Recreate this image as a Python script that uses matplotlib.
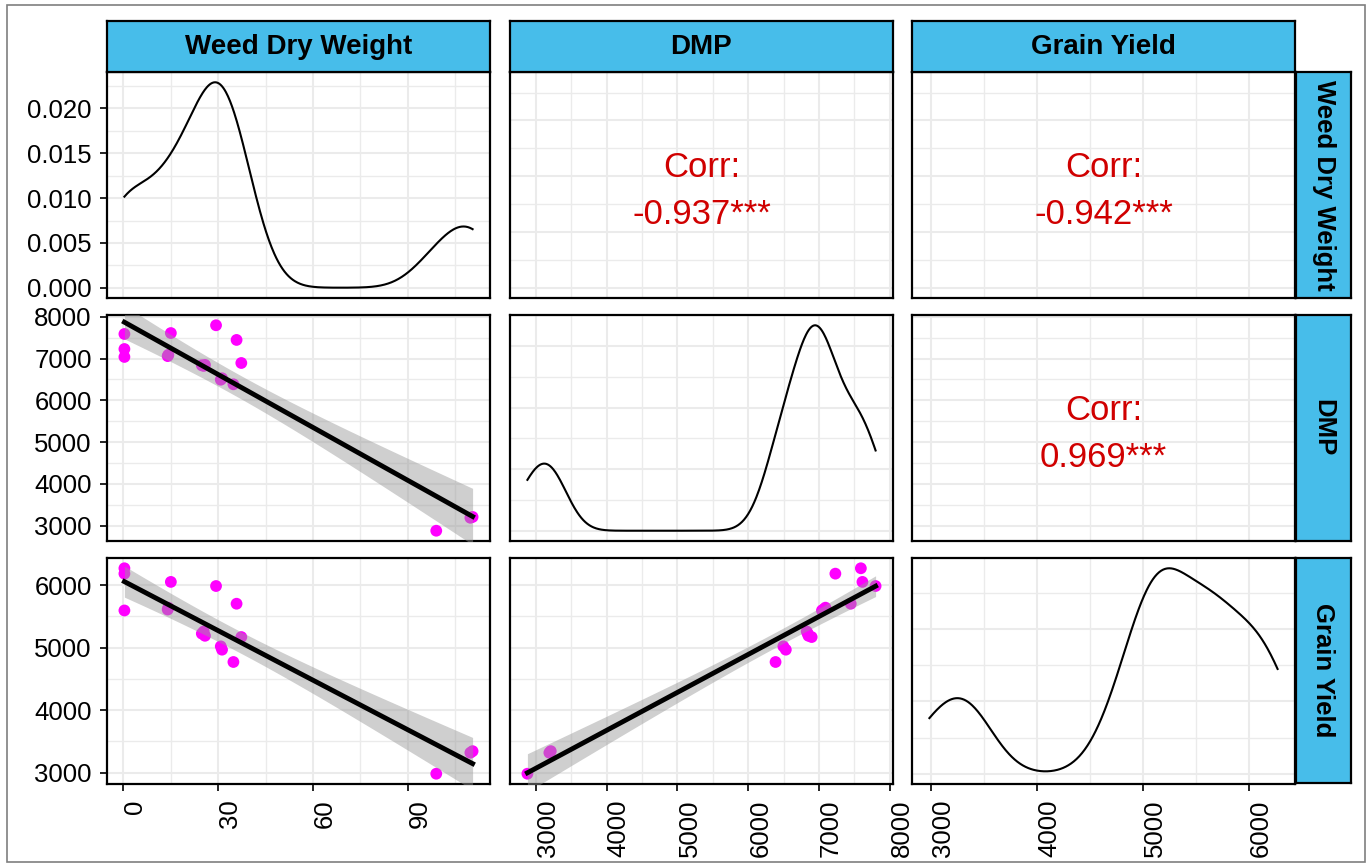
import numpy as np
import matplotlib.pyplot as plt
from matplotlib.patches import Rectangle
from matplotlib.ticker import MultipleLocator, MaxNLocator, FormatStrFormatter

plt.rcParams['font.family'] = ['Liberation Sans', 'DejaVu Sans']

# variables of the pairs plot
var_names = ['Weed Dry Weight', 'DMP', 'Grain Yield']
weed_dry_weight = [0.3, 0.3, 0.3, 15.0, 14.2, 14.0, 29.3, 35.8, 37.3, 25.4, 25.8, 24.8,
                   30.8, 31.2, 34.8, 99.0, 110.5, 109.8]
dmp = [7590, 7230, 7040, 7612, 7090, 7060, 7798, 7447, 6895, 6825, 6850, 6840,
       6495, 6530, 6385, 2880, 3210, 3190]
grain_yield = [6270, 6184, 5595, 6052, 5640, 5610, 5986, 5703, 5170, 5259, 5190, 5225,
               5021, 4968, 4771, 2984, 3345, 3320]
corr_labels = {(0, 1): '-0.937***', (0, 2): '-0.942***', (1, 2): '0.969***'}
x_steps = [30, 1000, 1000]
dens_step = 0.005

data = [np.array(weed_dry_weight, float), np.array(dmp, float),
        np.array(grain_yield, float)]

strip_col = '#47BDEA'
corr_col = '#D00000'
grid_col = '#EBEBEB'

W, H = 1370, 867
fig = plt.figure(figsize=(W / 100, H / 100), dpi=100)


def px_axes(left, top, width, height):
    return fig.add_axes([left / W, 1 - (top + height) / H, width / W, height / H])


def expand(v, mult=0.05):
    lo, hi = v.min(), v.max()
    d = hi - lo
    return lo - mult * d, hi + mult * d


def kde(v):
    n = len(v)
    q75, q25 = np.percentile(v, [75, 25])
    bw = 0.9 * min(v.std(ddof=1), (q75 - q25) / 1.34) * n ** -0.2
    grid = np.linspace(v.min(), v.max(), 512)
    z = (grid[:, None] - v[None, :]) / bw
    dens = np.exp(-0.5 * z ** 2).sum(axis=1) / (n * bw * np.sqrt(2 * np.pi))
    return grid, dens


def t_quantile(df, level=0.95):
    x = np.linspace(0, 80, 400001)
    pdf = (1 + x ** 2 / df) ** (-(df + 1) / 2)
    cdf = np.cumsum(pdf)
    cdf /= cdf[-1]
    return x[np.searchsorted(cdf, level)]


col_left = [107, 510, 912]
row_top = [72, 315, 558]
pw, ph = 383, 226
lims = [expand(v) for v in data]

for i in range(3):          # row
    for j in range(3):      # column
        ax = px_axes(col_left[j], row_top[i], pw, ph)
        ax.set_axisbelow(True)
        ax.set_xlim(lims[j])
        ax.xaxis.set_major_locator(MultipleLocator(x_steps[j]))
        ax.xaxis.set_minor_locator(MultipleLocator(x_steps[j] / 2))
        if i == j:
            g, d = kde(data[i])
            ax.plot(g, d, color='black', lw=1.5, zorder=3)
            ax.set_ylim(-0.05 * d.max(), 1.05 * d.max())
            if i == 0:
                ax.yaxis.set_major_locator(MultipleLocator(dens_step))
                ax.yaxis.set_minor_locator(MultipleLocator(dens_step / 2))
                ax.yaxis.set_major_formatter(FormatStrFormatter('%.3f'))
            else:
                loc = MaxNLocator(nbins=4, steps=[1, 2, 2.5, 5, 10])
                ax.yaxis.set_major_locator(loc)
                step = loc.tick_values(0, d.max())
                ax.yaxis.set_minor_locator(MultipleLocator((step[1] - step[0]) / 2))
        else:
            ax.set_ylim(lims[i])
            ax.yaxis.set_major_locator(MultipleLocator(x_steps[i]))
            ax.yaxis.set_minor_locator(MultipleLocator(x_steps[i] / 2))
        if i > j:
            x, y = data[j], data[i]
            ax.scatter(x, y, s=72, color='#FF00FF', edgecolor='none', zorder=2)
            n = len(x)
            b, a = np.polyfit(x, y, 1)
            xs = np.linspace(x.min(), x.max(), 80)
            fit = a + b * xs
            resid = y - (a + b * x)
            s = np.sqrt((resid ** 2).sum() / (n - 2))
            se = s * np.sqrt(1 / n + (xs - x.mean()) ** 2 / ((x - x.mean()) ** 2).sum())
            tq = t_quantile(n - 2)
            ax.fill_between(xs, fit - tq * se, fit + tq * se, color='#999999',
                            alpha=0.47, lw=0, zorder=3)
            ax.plot(xs, fit, color='black', lw=3.5, zorder=4)
        elif i < j:
            ax.text(0.5, 0.473, 'Corr:\n' + corr_labels[(i, j)], transform=ax.transAxes,
                    ha='center', va='center', multialignment='center',
                    fontsize=25, color=corr_col, linespacing=1.55)

        ax.grid(which='major', color=grid_col, lw=1.5)
        ax.grid(which='minor', color=grid_col, lw=1.0)
        for sp in ax.spines.values():
            sp.set_linewidth(1.6)
            sp.set_color('black')
        ax.tick_params(which='minor', length=0)
        ax.tick_params(which='major', direction='out', length=5, width=1.2,
                       labelsize=18.5, color='black', pad=6)
        if j != 0:
            ax.tick_params(axis='y', which='major', length=0, labelleft=False)
        if i != 2:
            ax.tick_params(axis='x', which='major', length=0, labelbottom=False)
        else:
            for lab in ax.get_xticklabels():
                lab.set_rotation(90)
                lab.set_ha('left')
                lab.set_va('top')

# top strips
for j in range(3):
    sax = px_axes(col_left[j], 21, pw, 51)
    sax.set_facecolor(strip_col)
    sax.set_xticks([])
    sax.set_yticks([])
    for sp in sax.spines.values():
        sp.set_linewidth(1.6)
    sax.text(0.5, 0.5, var_names[j], transform=sax.transAxes, ha='center',
             va='center', fontsize=20, fontweight='bold')

# right strips
for i in range(3):
    sax = px_axes(1296, row_top[i], 55, ph if i < 2 else 225)
    sax.set_facecolor(strip_col)
    sax.set_xticks([])
    sax.set_yticks([])
    for sp in sax.spines.values():
        sp.set_linewidth(1.6)
    sax.text(0.5, 0.5, var_names[i], transform=sax.transAxes, ha='center',
             va='center', fontsize=18.5, fontweight='bold', rotation=270)

# outer frame of the image
fig.patches.append(Rectangle((7 / W, 5 / H), 1358 / W, 857 / H, transform=fig.transFigure,
                             fill=False, edgecolor='#7F7F7F', lw=1.2))

fig.savefig('out.png', dpi=100)
